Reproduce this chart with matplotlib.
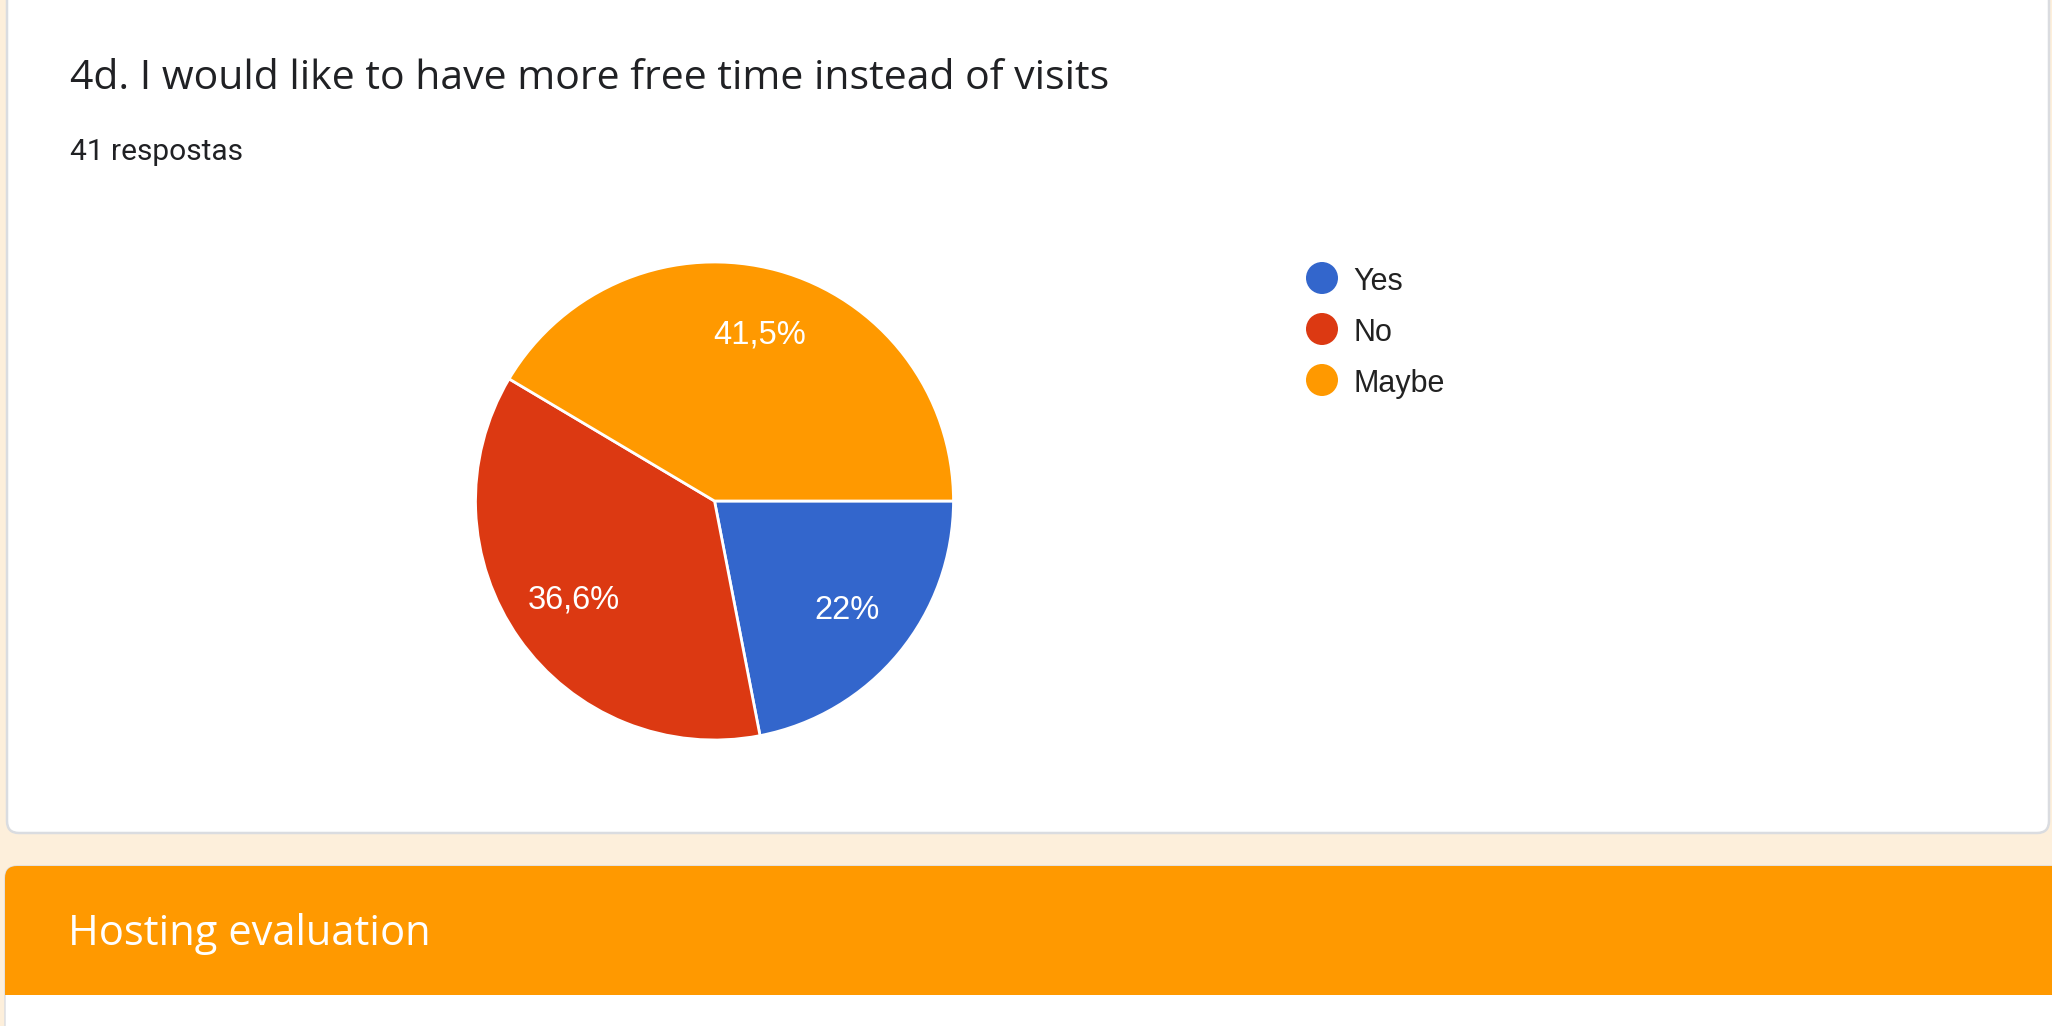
import matplotlib.pyplot as plt
from matplotlib.patches import FancyBboxPatch, Circle

# dados do gráfico
categorias = ['Yes', 'No', 'Maybe']
respostas = [9, 15, 17]
rotulos = ['22%', '36,6%', '41,5%']
cores = ['#3366cc', '#dc3912', '#ff9900']

titulo = '4d. I would like to have more free time instead of visits'
subtitulo = '41 respostas'
secao = 'Hosting evaluation'

W, H = 2052, 1026
fig = plt.figure(figsize=(W / 100, H / 100), dpi=100)
fig.patch.set_facecolor('#fdefdb')

# fundo em coordenadas de pixel
bg = fig.add_axes([0, 0, 1, 1])
bg.set_xlim(0, W)
bg.set_ylim(H, 0)
bg.axis('off')

# cartão branco
bg.add_patch(FancyBboxPatch((7, -40), 2042, 873, boxstyle='round,pad=0,rounding_size=12',
                            facecolor='white', edgecolor='#dadce0', linewidth=1.8))
# cabeçalho laranja da próxima secção
bg.add_patch(FancyBboxPatch((5, 866), 2060, 200, boxstyle='round,pad=0,rounding_size=12',
                            facecolor='white', edgecolor='#dadce0', linewidth=1))
bg.add_patch(FancyBboxPatch((5, 866), 2060, 129, boxstyle='round,pad=0,rounding_size=12',
                            facecolor='#ff9900', edgecolor='none'))
bg.add_patch(plt.Rectangle((5, 900), 2060, 95, facecolor='#ff9900', edgecolor='none'))

bg.text(70, 89, titulo, fontsize=29.5, family='Open Sans', color='#202124', va='baseline')
bg.text(70, 160, subtitulo, fontsize=21.5, family='Roboto', color='#202124', va='baseline')
bg.text(68, 945, secao, fontsize=30, family='Open Sans', color='white', va='baseline')

# legenda
for i, (cat, cor) in enumerate(zip(categorias, cores)):
    y = 278 + 51 * i
    bg.add_patch(Circle((1322, y), 16, facecolor=cor, edgecolor='none'))
    bg.text(1353, y + 12, cat, fontsize=22, family='Liberation Sans', color='#222222', va='baseline')

# pizza
cx, cy, r = 714.5, 501, 239
ax = fig.add_axes([(cx - r) / W, 1 - (cy + r) / H, 2 * r / W, 2 * r / H])
wedges, texts = ax.pie(respostas, colors=cores, startangle=0, counterclock=False,
                       labels=rotulos, labeldistance=0.72,
                       wedgeprops=dict(edgecolor='white', linewidth=2))
for t in texts:
    t.set_color('white')
    t.set_fontsize(23.5)
    t.set_family('Liberation Sans')
    t.set_horizontalalignment('center')
    t.set_verticalalignment('center')
ax.set_xlim(-1, 1)
ax.set_ylim(-1, 1)
ax.set_aspect('equal')

fig.savefig('out.png', dpi=100, facecolor=fig.get_facecolor())
